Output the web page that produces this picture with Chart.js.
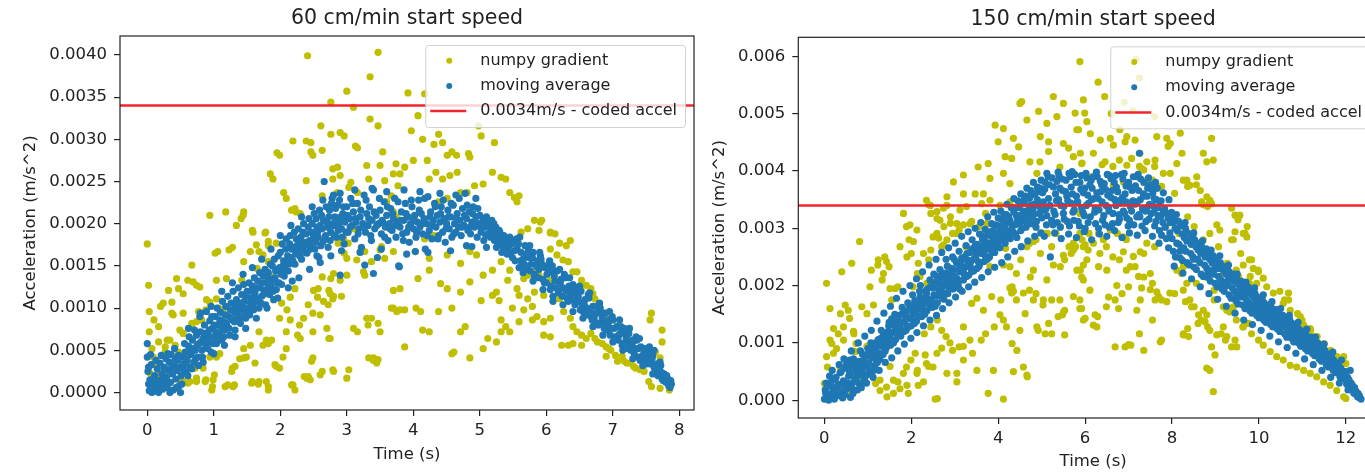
<!DOCTYPE html>
<html>
<head>
<meta charset="utf-8">
<script src="https://cdn.jsdelivr.net/npm/chart.js@4.4.0/dist/chart.umd.min.js"></script>
<style>
  html, body { margin: 0; padding: 0; background: #fff; overflow: hidden; width: 1365px; height: 472px; }
  .pane { position: absolute; top: 0; }
</style>
</head>
<body>
<div class="pane" style="left:0"><canvas id="left" width="700" height="472"></canvas></div>
<div class="pane" style="left:700px"><canvas id="right" width="700" height="472"></canvas></div>
<script>
// values are [time s, acceleration mm/s^2] (converted to m/s^2 when plotted)
const codedAccel = 0.0034;

const leftXTicks = [0, 1, 2, 3, 4, 5, 6, 7, 8];
const leftYTicks = [0, 0.0005, 0.001, 0.0015, 0.002, 0.0025, 0.003, 0.0035, 0.004];
const rightXTicks = [0, 2, 4, 6, 8, 10, 12];
const rightYTicks = [0, 0.001, 0.002, 0.003, 0.004, 0.005, 0.006];

const leftGradient = [
  [2.41,3.99],[3.47,4.03],[3.35,3.74],[3.0,3.57],[2.76,3.44],[3.1,3.38],[3.35,3.24],[3.47,3.16],[3.92,3.55],[4.07,3.28],
  [4.17,3.54],[4.98,3.16],[5.02,3.04],[5.22,2.96],[4.38,3.06],[3.97,3.1],[4.14,3.0],[4.31,2.94],
  [2.61,3.16],[2.76,3.06],[2.9,3.08],[2.96,3.04],[2.39,2.98],[2.46,2.96],[2.19,2.98],[3.16,2.9],[3.13,2.92],[2.63,2.87],
  [2.46,2.85],[2.49,2.81],[1.95,2.84],[1.99,2.81],[3.54,2.85],[3.74,2.71],[3.5,2.69],[3.87,2.67],[4.0,2.75],[4.21,2.75],
  [4.65,2.81],[4.83,2.83],[4.85,2.79],[4.44,2.96],[4.51,2.81],[4.58,2.85],
  [1.85,2.59],[1.89,2.53],[2.05,2.37],[2.09,2.3],[2.22,2.18],[2.24,2.14],[2.79,2.65],[2.86,2.67],[2.79,2.53],[2.9,2.57],
  [3.03,2.43],[3.06,2.49],[3.3,2.69],[3.33,2.53],[3.16,2.37],[3.57,2.51],[3.7,2.59],[3.8,2.59],[3.77,2.45],[3.67,2.33],
  [3.6,2.26],[4.24,2.53],[4.34,2.61],[4.44,2.53],[4.55,2.57],[4.66,2.61],[4.71,2.37],[4.81,2.37],[4.92,2.45],[5.05,2.47],
  [5.19,2.61],[5.32,2.55],[5.39,2.53],[5.45,2.37],[5.52,2.31],[5.56,2.26],[2.39,2.51],[2.63,2.33],[2.86,2.37],
  [0.94,2.1],[1.18,2.14],[1.45,2.14],[1.41,2.06],[1.58,1.92],[1.78,1.9],[1.82,1.74],[1.55,1.67],[1.68,1.67],[1.28,1.72],
  [1.06,1.67],[1.45,1.55],[1.65,1.47],[1.82,1.55],[1.34,1.98],[1.59,1.9],[1.64,1.75],[1.74,1.63],[1.94,1.77],[2.3,2.12],
  [2.17,2.16],[1.89,1.37],[2.02,1.06],[2.1,0.98],[2.15,0.86],[2.3,0.64],[2.35,0.88],[2.5,1.21],[2.57,1.23],[2.75,1.17],
  [2.8,1.14],[2.92,1.14],[2.65,1.08],[2.72,1.04],[2.7,0.76],[2.75,0.64],[2.6,0.92],
  [0,1.76],[0.02,1.27],[0.03,0.96],[0.1,0.86],[0.17,0.78],[0.24,1.06],[0.37,1.07],[0.47,1.23],[0.54,1.17],[0.67,1.51],
  [0.61,1.33],[0.74,1.27],[0.37,0.94],[0.54,0.94],[0.67,0.82],[0.77,0.96],[0.88,0.98],[0.94,1.07],[1.04,1.11],[0.03,0.72],
  [0.07,0.52],[0.1,0.33],[0.17,0.21],[0.27,0.48],[0.3,0.62],[0.47,0.48],[0.37,0.33],[0.51,0.13],[0.61,0.11],[0.74,0.17],
  [0.88,0.15],[0.98,0.07],[1.01,0.21],[1.21,0.09],[1.31,0.09],[1.28,0.29],[1.45,0.41],[1.45,0.52],[1.55,0.56],[1.68,0.72],
  [1.58,0.13],[1.68,0.13],[1.82,0.07],[1.92,0.33],[1.99,0.29],[2.19,0.09],[2.22,0.03],[2.36,0.19],[2.42,0.19],[2.49,0.41],
  [2.63,0.25],[2.79,0.27],[3.03,0.27],[3.0,0.17],[2.09,0.72],[2.09,0.52],[1.82,0.58],[1.99,0.88],[2.29,0.8],[2.26,0.68],
  [2.49,0.72],[2.73,0.64],[2.49,0.94],[2.42,1.04],[2.56,1.13],[2.79,1.11],[2.73,1.21],[2.15,1.13],[2.22,1.23],[2.63,1.37],
  [2.76,1.35],[3.1,0.76],[3.16,0.72],[3.37,0.88],[3.5,0.72],[3.33,0.41],[3.47,0.39],[3.4,0.41],
  [0.09,0.42],[0.04,0.23],[0.2,1.02],[0.32,1.21],[0.44,1.35],[0.69,1.31],[0.79,1.25],[0.39,0.92],[0.49,0.74],[0.54,0.7],
  [0.67,0.78],[0.74,0.84],[0.82,0.86],[0.89,1.1],[1.02,1.65],[1.23,1.69],[1.44,2.1],[1.42,1.33],[1.04,1.33],[1.19,1.35],
  [1.07,1.0],[1.14,0.98],[1.44,1.02],[1.77,1.89],[1.82,1.79],[1.79,0.62],[1.74,0.56],[1.62,0.35],[1.49,0.42],[1.39,0.4],
  [1.32,0.31],[1.27,0.25],[1.17,0.07],[1.29,0.07],[1.57,0.11],[1.67,0.1],[1.79,0.13],[1.82,0.03],[1.94,0.31],[1.87,0.62],
  [2.04,0.42],[2.17,0.09],[2.4,0.17],[2.45,0.15],[2.6,0.21],[2.8,0.25],[2.47,0.37],[0.24,0.23],[0.29,0.15],[0.34,0.03],
  [0.44,0.05],[0.54,0.13],[0.64,0.13],[0.74,0.13],[0.87,0.13],[0.99,0.15],[0.97,0.03],[0.59,0.35],[0.62,0.44],[0.94,0.42],
  [1.09,0.46],[0.42,0.56],[0.27,0.54],[0.34,0.62],[0.17,0.6],[0.72,0.29],[0.84,0.29],[1.04,0.42],
  [3.4,0.38],[3.45,0.35],[3.3,0.88],[3.32,0.8],[3.47,0.82],[3.67,1.0],[3.75,0.96],[3.57,1.59],[3.52,1.73],[3.15,1.57],
  [3.25,1.43],[3.27,1.39],[3.0,1.39],[2.9,1.33],[2.8,1.41],[3.2,1.67],[3.02,1.77],[2.95,1.83],[2.87,1.77],
  [3.7,1.0],[3.8,0.98],[3.87,0.98],[4.04,1.0],[4.11,0.96],[4.14,0.74],[4.24,0.72],[4.38,0.96],[4.58,1.0],[4.71,0.72],
  [4.78,0.78],[4.61,0.48],[3.87,0.54],[4.85,0.41],[3.7,1.21],[3.8,1.23],[4.07,1.35],[4.24,1.45],[4.41,1.29],[4.51,1.23],
  [4.71,1.19],[4.85,1.31],[5.02,1.09],[5.19,1.15],[5.25,1.19],[5.29,1.09],[5.05,1.39],[5.19,1.45],[5.32,1.55],[5.45,1.45],
  [5.42,1.33],[4.51,1.63],[4.85,1.67],[4.95,1.63],[4.71,1.53],[4.24,1.59],[3.7,1.67],[3.5,1.69],[3.37,1.55],[3.27,1.67],
  [2.96,1.65],[3.0,1.59],[3.1,1.94],[2.9,2.06],[2.76,1.9],[3.7,2.14],[3.74,2.08],[3.84,2.04],[4.01,2.06],[4.38,2.26],
  [4.51,2.3],[4.17,1.82],[4.31,1.86],[4.58,0.46],[4.03,1.67],
  [5.59,2.33],[5.62,1.9],[5.72,1.94],[5.82,2.04],[5.89,1.92],[5.93,2.04],[6.06,1.9],[6.13,1.88],[6.06,1.7],[6.16,1.63],
  [5.89,1.51],[5.82,1.43],[5.72,1.39],[5.66,1.35],[5.56,1.23],[5.59,1.15],[5.72,1.11],[5.82,1.19],[5.86,0.9],[5.79,0.86],
  [5.96,0.84],[6.06,0.88],[5.96,0.68],[6.06,0.66],[6.23,0.56],[6.33,0.56],[6.4,0.58],[6.53,0.56],[6.6,0.64],[6.73,0.64],
  [6.84,0.58],[6.94,0.52],[6.9,0.43],[7.07,0.37],[7.21,0.35],[7.34,0.29],[7.47,0.25],[7.54,0.13],[7.58,0.07],[7.71,0.05],
  [7.85,0.03],[7.58,0.94],[7.56,0.86],[7.71,0.41],[7.74,0.6],[7.74,0.74],[7.64,0.48],
  [6.3,1.74],[6.36,1.8],[6.33,1.55],[6.46,1.43],[6.53,1.33],[6.6,1.27],[6.67,1.23],[6.7,1.17],[6.73,1.11],[6.8,1.04],
  [6.87,0.94],[6.94,0.9],[7.0,0.86],[7.07,0.78],[7.21,0.72],[7.21,0.64],[7.34,0.62],[7.41,0.52],[7.47,0.43],
  [6.2,1.11],[6.26,0.96],[6.36,0.88],[6.4,0.78],[6.46,0.72],[6.53,0.68],[6.67,0.7],[6.77,0.6],[6.9,0.54],[6.97,0.5],
  [7.04,0.44],[7.14,0.43],[7.17,0.37],[7.27,0.35],[7.31,0.31],[7.41,0.27],
  [5.89,1.39],[5.96,1.15],[6.06,1.33],[5.79,1.02],[5.66,0.98],[5.49,1.0],[5.32,0.86],[5.39,0.78],[5.45,0.72],[5.59,0.84],
  [5.32,0.72],[5.25,0.6],[5.12,0.64],[5.05,0.52],[6.06,1.89],[5.91,2.02],[6.2,1.77],[6.25,1.57],[6.4,1.43],[6.52,1.22]
];

const leftAverage = [
  [0,0.58],[0,0.42],[0.01,0.25],[0.02,0.1],[0.03,0.02],[0.04,0.15],[0.05,0.05],[0.06,0.33],[0.07,0.0],[0.08,0.12],
  [0.1,0.06],[0.11,0.2],[0.12,0.02],[0.14,0.1],[0.15,0.28],[0.16,0.05],[0.18,0.14],[0.19,0.35],[0.2,0.08],[0.22,0.22],
  [0.23,0.04],[0.25,0.3],[0.26,0.12],[0.28,0.4],[0.29,0.18],[0.3,0.06],[0.32,0.26],[0.33,0.36],[0.35,0.12],[0.36,0.45],
  [0.38,0.22],[0.39,0.03],[0.4,0.32],[0.42,0.4],[0.43,0.16],[0.45,0.26],[0.46,0.38],[0.48,0.08],[0.49,0.3],[0.5,0.0],
  [0.51,0.2],[0.53,0.42],[0.55,0.34],[0.57,0.48],[0.58,0.24],
  [0.6,0.38],[0.62,0.55],[0.64,0.3],[0.66,0.45],[0.68,0.62],[0.7,0.36],[0.72,0.5],[0.74,0.68],[0.76,0.42],[0.78,0.58],
  [0.8,0.72],[0.82,0.5],[0.84,0.64],[0.86,0.8],[0.88,0.55],[0.9,0.7],[0.92,0.6],[0.94,0.85],[0.96,0.48],[0.98,0.76],
  [1.0,0.66],[1.02,0.9],[1.04,0.58],[1.06,0.8],[1.08,0.7],[1.1,0.95],[1.12,0.62],[1.14,0.84],[1.16,0.74],[1.18,1.02],
  [1.2,0.78],[1.22,0.9],[1.24,0.68],[1.26,1.06],[1.28,0.86],[1.3,0.96],[1.32,0.74],[1.34,1.1],[1.36,0.92],[1.38,1.02],
  [1.4,0.82],[1.42,1.16],[1.44,0.98],[1.46,1.08],[1.48,0.88],[1.5,1.2],[1.52,1.0],[1.54,0.92],[1.56,1.12],[1.58,1.26],
  [1.6,0.98],[1.62,1.18],[1.64,1.08],[1.66,1.32],[1.68,1.0],[1.7,1.24],[1.72,1.14],[1.74,1.38],[1.76,1.2],[1.78,1.04],
  [1.8,1.3],[1.82,1.42],[1.84,1.16],[1.86,1.26],[1.88,1.5],[1.9,1.1],[1.92,1.36],[1.94,1.22],[1.96,1.46],[1.98,1.3],
  [2.0,1.66],[2.02,1.28],[2.04,1.5],[2.06,1.38],[2.08,1.7],[2.1,1.54],[2.12,1.44],[2.14,1.76],[2.16,1.6],[2.18,1.32],
  [2.2,1.72],[2.22,1.52],[2.24,1.82],[2.26,1.66],[2.28,1.76],[2.3,1.8],[2.32,1.58],[2.34,1.9],[2.36,1.74],[2.38,1.78],
  [2.4,1.65],[2.42,1.96],[2.44,1.8],[2.46,1.72],[2.48,2.0],[2.5,1.86],[2.52,1.7],[2.54,2.06],[2.56,1.9],[2.58,1.6],
  [2.6,1.98],[2.62,2.1],[2.64,1.78],[2.66,2.5],[2.68,1.86],[2.7,2.02],[2.72,1.72],[2.74,2.16],[2.76,1.9],[2.78,2.3],
  [2.8,1.98],[2.82,2.08],[2.84,1.84],[2.86,2.22],[2.88,2.0],[2.9,2.36],[2.92,1.94],[2.94,2.12],[2.96,1.76],[2.98,2.04],
  [3.0,2.2],[3.02,1.9],[3.04,2.06],[3.06,2.3],[3.08,1.98],[3.1,2.14],[3.12,1.82],[3.14,2.02],[3.16,2.24],[3.18,1.94],
  [3.2,2.08],[3.22,1.72],[3.24,2.0],[3.26,2.34],[3.28,1.9],[3.3,2.12],[3.32,1.98],[3.34,2.2],[3.36,1.86],[3.38,2.04],
  [3.4,2.4],[3.42,1.94],[3.44,2.1],[3.46,1.6],[3.48,2.0],[3.5,2.16],[3.52,1.88],[3.54,2.02],[3.56,2.26],[3.58,1.96],
  [3.6,2.1],[3.62,1.8],[3.64,2.0],[3.66,2.18],[3.68,1.92],[3.7,2.06],[3.72,2.3],[3.74,1.84],[3.76,2.02],[3.78,1.5],
  [3.8,1.96],[3.82,2.14],[3.84,1.88],[3.86,2.04],[3.88,2.24],[3.9,1.9],[3.92,2.08],[3.94,1.78],[3.96,2.0],[3.98,2.2],
  [4.0,1.94],[4.02,2.1],[4.04,1.84],[4.06,2.02],[4.08,2.28],[4.1,1.96],[4.12,2.12],[4.14,1.88],[4.16,2.06],[4.18,1.7],
  [4.2,2.0],[4.22,2.32],[4.24,1.92],[4.26,2.14],[4.28,1.82],[4.3,2.04],[4.32,2.24],[4.34,1.96],[4.36,2.1],[4.38,1.86],
  [4.4,2.02],[4.42,2.2],[4.44,1.9],[4.46,2.06],[4.48,1.78],[4.5,2.0],[4.52,2.16],[4.54,1.94],[4.56,2.08],[4.58,1.84],
  [4.6,2.22],[4.62,2.0],[4.64,1.9],[4.66,2.12],[4.68,1.96],[4.7,2.04],[4.72,1.86],[4.74,2.18],[4.76,1.98],[4.78,2.36],
  [4.8,2.06],[4.82,1.92],[4.84,2.14],[4.86,1.88],[4.88,2.02],[4.9,2.2],[4.92,1.96],[4.94,2.08],[4.96,1.84],[4.98,2.0],
  [5.0,2.1],[5.02,1.9],[5.04,2.02],[5.06,1.8],[5.08,1.96],[5.1,2.08],[5.12,1.88],[5.14,1.98],[5.16,1.84],[5.18,2.04],
  [5.2,1.9],[5.22,1.8],[5.24,1.96],[5.26,1.86],[5.28,1.76],[5.3,1.9],[5.32,1.82],[5.34,1.74],[5.36,1.86],[5.38,1.78],
  [5.4,1.7],[5.42,1.8],[5.44,1.74],[5.46,1.66],[5.48,1.76],
  [5.5,1.78],[5.53,1.56],[5.56,1.7],[5.59,1.48],[5.62,1.66],[5.65,1.58],[5.68,1.74],[5.71,1.46],[5.74,1.6],[5.77,1.52],
  [5.8,1.66],[5.83,1.4],[5.86,1.56],[5.89,1.46],[5.92,1.58],[5.95,1.34],[5.98,1.48],[6.01,1.4],[6.04,1.52],[6.07,1.26],
  [6.1,1.42],[6.13,1.32],[6.16,1.44],[6.19,1.2],[6.22,1.34],[6.25,1.24],[6.28,1.36],[6.31,1.12],[6.34,1.26],[6.37,1.16],
  [6.4,1.28],[6.43,1.04],[6.46,1.18],[6.49,1.08],[6.52,1.2],[6.55,0.96],[6.58,1.1],[6.61,1.0],[6.64,1.12],[6.67,0.9],
  [6.7,1.02],[6.73,0.92],[6.76,1.02],[6.79,0.82],[6.82,0.94],[6.85,0.84],[6.88,0.94],[6.91,0.74],[6.94,0.86],[6.97,0.76],
  [7.0,0.86],[7.03,0.66],[7.06,0.78],[7.09,0.68],[7.12,0.78],[7.15,0.58],[7.18,0.7],[7.21,0.6],[7.24,0.7],[7.27,0.5],
  [7.3,0.62],[7.33,0.52],[7.36,0.62],[7.39,0.42],[7.42,0.54],[7.45,0.44],[7.48,0.52],[7.51,0.34],[7.54,0.44],[7.57,0.36],
  [7.6,0.44],[7.62,0.5],[7.64,0.26],[7.67,0.34],[7.7,0.26],[7.72,0.32],[7.74,0.16],[7.77,0.22],[7.8,0.12],[7.83,0.16],
  [7.86,0.06],[7.88,0.1],
  [5.55,1.82],[5.64,1.5],[5.73,1.68],[5.82,1.38],[5.91,1.62],[6.0,1.3],[6.09,1.5],[6.18,1.18],[6.27,1.4],[6.36,1.1],
  [6.45,1.24],[6.54,1.02],[6.63,1.16],[6.72,0.86],[6.81,1.0],[6.9,0.8],[6.99,0.9],[7.08,0.62],[7.17,0.76],[7.26,0.56],
  [7.35,0.66],[7.44,0.4],[7.53,0.48],[7.62,0.3],[7.71,0.36],[7.79,0.2],[6.1,1.08],
  [3.79,1.49],[3.4,1.41],[3.27,1.51],[2.9,1.39],[2.55,1.62],[4.03,1.67],[4.88,1.73],
  [0.02,0.3],[0.05,0.45],[0.09,0.16],[0.13,0.38],[0.17,0.0],[0.21,0.44],[0.24,0.16],[0.27,0.28],[0.31,0.46],[0.34,0.0],
  [0.37,0.3],[0.41,0.52],[0.44,0.06],[0.47,0.44],[0.52,0.1],[0.54,0.28],[0.56,0.58],[0.59,0.4],[0.61,0.2],[0.63,0.66],
  [0.65,0.48],[0.67,0.28],[0.69,0.52],[0.71,0.74],[0.73,0.4],[0.75,0.56],[0.77,0.32],[0.79,0.9],[0.81,0.6],[0.83,0.42],
  [0.85,0.7],[0.87,0.62],[0.89,0.96],[0.91,0.52],[0.93,0.74],[0.95,0.66],[0.97,0.9],[0.99,0.58],[1.01,0.8],[1.03,0.72],
  [1.05,1.0],[1.07,0.62],[1.09,0.86],[1.11,0.78],[1.13,1.08],[1.15,0.66],[1.17,0.92],[1.19,0.82],[1.21,1.14],[1.23,0.76],
  [1.25,0.98],[1.27,0.88],[1.29,1.2],[1.31,0.84],[1.33,1.02],[1.35,0.96],[1.37,1.24],[1.39,0.88],[1.41,1.06],[1.43,0.9],
  [1.45,1.28],[1.47,1.0],[1.49,1.14],[1.51,0.94],[1.53,1.3],[1.55,1.06],[1.57,1.2],[1.59,1.04],[1.61,1.36],[1.63,1.12],
  [1.65,1.24],[1.67,1.1],[1.69,1.42],[1.71,1.06],[1.73,1.3],[1.75,1.16],[1.77,1.46],[1.79,1.22],[1.81,1.36],[1.83,1.24],
  [1.85,1.52],[1.87,1.34],[1.89,1.2],[1.91,1.58],[1.93,1.44],[1.95,1.3],[1.97,1.62],[1.99,1.48],[2.01,1.4],[2.03,1.76],
  [2.05,1.56],[2.07,1.46],[2.09,1.82],[2.11,1.62],[2.13,1.52],[2.15,1.86],[2.17,1.7],[2.19,1.56],[2.21,1.9],[2.23,1.64],
  [2.25,1.74],[2.27,1.94],[2.29,1.62],[2.31,1.84],[2.33,1.7],[2.35,2.0],[2.37,1.66],[2.39,1.88],[2.41,1.76],[2.43,2.06],
  [2.45,1.7],[2.47,1.9],[2.49,1.8],[2.51,2.12],[2.53,1.78],[2.55,1.96],[2.57,1.84],[2.59,2.16],[2.61,1.74],[2.63,1.94],
  [2.65,2.04],[2.67,1.82],[2.69,2.2],[2.71,1.96],[2.73,2.08],[2.75,1.8],[2.77,2.24],[2.79,2.0],[2.81,1.86],[2.83,2.18],
  [2.85,2.04],[2.87,1.92],[2.89,2.28],[2.91,2.08],[2.93,1.84],[2.95,2.2],[2.97,2.02],[2.99,1.9],
  [3.01,2.1],[3.05,1.96],[3.09,2.24],[3.13,2.06],[3.17,1.88],[3.21,2.16],[3.25,1.96],[3.29,2.28],[3.33,2.06],[3.37,1.8],
  [3.41,2.14],[3.45,1.98],[3.49,2.3],[3.53,2.04],[3.57,1.84],[3.61,2.2],[3.65,1.94],[3.69,2.12],[3.73,1.98],[3.77,2.26],
  [3.81,2.04],[3.85,1.8],[3.89,2.12],[3.93,1.96],[3.97,2.28],[4.01,2.04],[4.05,1.9],[4.09,2.16],[4.13,2.0],[4.17,2.3],
  [4.21,1.86],[4.25,2.08],[4.29,1.98],[4.33,2.2],[4.37,1.82],[4.41,2.12],[4.45,2.28],[4.49,1.94],[4.53,2.08],[4.57,2.24],
  [4.61,1.88],[4.65,2.06],[4.69,2.3],[4.73,1.96],[4.77,2.1],[4.81,2.22],[4.85,1.96],[4.89,2.12],[4.93,2.0],[4.97,2.18],
  [5.01,1.96],[5.05,2.06],[5.09,1.86],[5.13,2.02],[5.17,1.92],[5.21,2.0],[5.25,1.72],[5.29,1.92],[5.33,1.66],[5.37,1.8],
  [5.41,1.64],[5.45,1.84],[5.49,1.6],
  [5.52,1.68],[5.58,1.76],[5.61,1.56],[5.67,1.52],[5.7,1.64],[5.76,1.44],[5.79,1.6],[5.85,1.5],[5.88,1.36],[5.94,1.52],
  [5.97,1.3],[6.03,1.44],[6.06,1.22],[6.12,1.38],[6.15,1.24],[6.21,1.3],[6.24,1.14],[6.3,1.2],[6.33,1.08],[6.39,1.22],
  [6.42,1.1],[6.48,1.14],[6.51,0.98],[6.57,1.04],[6.6,0.92],[6.66,0.98],[6.69,0.86],[6.75,0.94],[6.78,0.8],[6.84,0.88],
  [6.87,0.76],[6.93,0.82],[6.96,0.68],[7.02,0.76],[7.05,0.64],[7.11,0.7],[7.14,0.56],[7.2,0.64],[7.23,0.52],[7.29,0.58],
  [7.32,0.46],[7.38,0.52],[7.41,0.38],[7.47,0.46],[7.5,0.4],[7.56,0.34],[7.59,0.4],[7.65,0.3],[7.68,0.2],[7.73,0.24],
  [7.76,0.14],[7.81,0.2],[7.84,0.08],[7.87,0.14],
  [0.62,0.76],[0.8,0.94],[0.96,1.02],[1.12,1.2],[1.28,1.3],[1.44,1.4],[1.58,1.48],[1.72,1.58],[1.86,1.7],[2.0,1.86],
  [2.16,1.98],[2.32,2.08],[2.48,2.2],[2.64,2.28],[2.8,2.34],[3.12,2.4],[3.38,2.42],[3.6,2.38],[3.86,2.4],[4.1,2.38],
  [4.4,2.36],[4.64,2.34],[4.94,2.3],
  [0.84,0.36],[1.0,0.46],[1.16,0.56],[1.32,0.66],[1.48,0.76],[1.64,0.88],[1.8,1.0],[1.96,1.12],[2.12,1.24],[2.28,1.36],
  [2.44,1.46],[2.6,1.54],[2.76,1.62],[2.92,1.68],[3.2,1.66],[3.52,1.7],[3.9,1.64],[4.22,1.66],[4.56,1.68],[4.8,1.74],
  [5.1,1.72],
  [5.6,1.84],[5.75,1.74],[5.9,1.66],[6.05,1.56],[6.2,1.46],[6.35,1.36],[6.5,1.26],[6.65,1.18],[6.8,1.06],[6.95,0.96],
  [7.1,0.86],[7.25,0.76],[7.4,0.64],[7.55,0.54],
  [5.65,1.42],[5.8,1.32],[5.95,1.22],[6.1,1.14],[6.25,1.04],[6.4,0.96],[6.55,0.88],[6.7,0.78],[6.85,0.68],[7.0,0.6],
  [7.15,0.5],[7.3,0.4],[7.45,0.32],[7.6,0.22]
];

const rightGradient = [
  [0.05,2.04],[0.81,2.77],[0.4,2.24],[0.63,2.39],[0.13,1.6],[0.21,1.25],[0.44,1.28],[0.55,1.57],[0.86,1.63],[1.05,1.98],
  [1.24,2.45],[1.43,2.42],[1.36,2.21],[1.51,1.95],[1.63,1.95],[1.55,1.75],[1.74,2.68],[1.9,2.5],[2.05,2.77],[2.16,2.39],
  [2.2,2.16],[2.28,2.56],[2.36,2.04],[2.59,2.91],[2.82,2.8],[3.05,2.91],[3.2,3.06],[3.39,3.12],[1.82,3.26],[1.97,3.06],
  [2.13,2.97],[2.59,3.17],[2.4,3.41],[2.74,3.35],[3.12,3.32],[3.27,3.38],
  [0.98,0.94],[1.09,0.76],[1.51,0.59],[1.59,0.35],[1.74,0.2],[1.93,0.12],[2.28,0.32],[2.55,0.02],[2.82,0.47],[3.05,0.47],
  [3.05,0.32],[3.77,0.12],[4.12,0.02],[3.89,0.52],[4.35,0.5],[4.58,0.58],[4.66,0.44],[4.43,0.87],[4.5,1.22],[4.89,1.28],
  [5.16,1.34],[5.5,1.54],[5.96,1.4],[5.88,1.6],[5.42,1.75],[5.04,1.75],[4.81,1.75],[4.58,1.87],[4.81,2.27],[5.12,2.1],
  [5.27,2.36],[5.5,2.53],[5.73,2.74],[5.81,2.27],[5.96,2.36],[5.88,2.91],[6.0,2.71],[3.85,1.81],[4.04,1.49],[4.19,1.28],
  [4.27,1.96],[4.35,1.9],[3.39,1.69],[3.51,1.78],[3.66,1.57],[3.2,1.28],[3.35,1.05],[3.2,0.94],[2.89,1.0],[2.7,0.91],
  [2.59,0.82],[2.32,0.79],[2.4,0.59],[2.13,0.47],[2.16,0.26],[1.82,0.47],[1.9,0.26],[1.59,0.12],[1.43,0.23],[1.28,0.35],
  [1.13,0.55],[0.94,0.76],[0.71,0.85],[0.55,0.64],[0.36,0.58],[0.21,0.82],[0.05,0.76],[0.28,0.9],[0.44,1.05],[0.13,1.05],
  [0.67,1.2],[2.63,2.83],[2.74,2.71],[3.81,2.33],[4.12,2.36],[4.31,1.87],[4.74,2.15],[4.19,2.83],[4.66,2.68],[4.81,2.77],
  [5.04,2.91],[5.73,2.62],[5.92,2.15],[3.7,2.85],[3.81,2.68],
  [0.0,0.29],[0.07,0.58],[0.17,0.99],[0.32,1.16],[0.68,1.16],[0.73,0.99],[0.93,0.7],[0.78,0.35],[0.58,0.15],[1.18,0.29],
  [1.28,0.17],[1.44,0.06],[1.69,0.32],[1.89,0.58],[1.99,0.7],[2.09,0.82],[2.14,0.52],[2.35,0.64],[2.5,0.58],[2.6,0.03],
  [2.3,1.16],[2.45,1.28],[2.6,1.4],[2.7,1.22],[2.8,1.11],[2.95,0.87],[3.1,0.93],[3.2,0.7],[3.41,0.82],[3.51,0.52],
  [4.67,0.41],[3.71,1.16],[3.61,1.05],[3.91,1.28],[4.12,1.4],[4.32,0.99],[4.06,1.75],[4.42,1.75],[5.23,1.16],[5.53,1.14],
  [0.37,1.51],[0.48,1.66],[0.58,1.43],[0.98,1.51],[1.13,1.66],[1.08,2.27],[1.23,2.36],[1.39,2.5],[1.49,2.33],[1.33,2.1],
  [1.69,1.98],[1.89,3.03],[1.95,2.8],[2.0,2.56],[2.14,2.21],[2.04,1.98],[2.35,3.49],[2.45,3.26],[2.5,2.85],[2.45,2.62],
  [2.4,2.45],[2.7,2.68],[2.75,3.03],[2.9,3.09],[2.95,2.91],[3.1,2.97],[3.26,2.68],[3.56,3.03],[3.71,3.26],[3.91,2.8],
  [4.17,2.65],[4.27,2.33],[4.32,1.98],[4.42,2.21],[4.52,2.45],[4.72,2.74],[4.87,2.8],[4.97,2.56],[5.13,2.91],[5.23,2.68],
  [5.43,2.33],[5.53,2.45],[5.68,2.56],[5.78,2.68],[5.93,2.8],[4.92,1.22],[5.08,1.16],[5.48,1.49],[5.03,1.66],[4.87,1.86],
  [4.72,1.92],[4.62,1.51],[5.23,1.75],[5.38,1.46],[5.53,1.57],[5.73,1.81],[5.88,1.75],
  [5.88,5.91],[5.27,5.3],[4.54,5.21],[4.5,5.18],[4.93,5.04],[5.5,5.18],[5.35,4.95],[4.66,4.89],[3.93,4.8],[4.12,4.74],
  [5.12,4.83],[5.77,5.01],[5.96,5.24],[5.81,4.72],[4.0,4.51],[4.35,4.57],[4.97,4.6],[5.16,4.51],[5.5,4.48],[5.62,4.4],
  [4.47,4.42],[4.16,4.25],[4.31,4.22],[4.73,4.16],[4.96,4.16],[5.16,4.34],[5.42,4.07],[5.65,3.96],[3.77,4.13],[3.54,4.07],
  [3.2,3.93],[2.97,3.81],[3.81,3.87],[4.12,3.96],[4.27,3.78],[4.89,3.96],[3.47,3.6],[3.66,3.6],[3.81,3.49],[3.2,3.6],
  [2.82,3.55],[2.59,3.29],[2.9,3.2],[3.05,3.08],[3.35,3.08],[3.74,3.08],[2.44,3.4],[2.82,3.4],[3.62,3.43],[4.04,3.4],
  [4.27,3.46],[2.66,3.14],
  [5.99,5.01],[6.04,4.86],[5.85,4.72],[6.12,4.65],[5.89,4.31],[5.92,4.13],[6.19,4.31],[6.35,4.54],[6.46,4.16],[6.58,4.57],
  [6.65,4.45],[6.8,4.72],[6.92,4.51],[6.96,4.6],[7.15,4.54],[7.07,4.22],[6.96,4.1],[7.3,4.04],[7.42,4.16],[7.61,4.19],
  [7.65,4.6],[7.88,4.57],[7.96,4.48],[8.11,4.13],[8.19,4.66],[8.23,4.31],[8.57,3.9],[8.72,4.31],[8.8,4.16],[8.91,4.57],
  [8.34,3.84],[8.41,3.75],[8.65,3.66],[8.8,3.55],[8.68,3.46],[8.91,3.43],[9.37,3.35],[9.45,3.23],[9.56,3.23],[6.65,3.75],
  [6.88,3.81],[7.8,3.96],[7.42,3.84],[7.61,3.69],[7.26,4.31],[6.15,3.9],
  [6.3,5.55],[6.9,5.2],[7.1,5.05],[7.6,4.95],[6.6,5.0],[7.17,5.95],[7.25,5.62],[6.45,5.3],
  [9.03,3.06],[9.1,2.97],[9.45,2.94],[9.64,2.91],[9.72,2.85],[9.83,2.45],[9.87,2.3],[9.99,2.24],[9.64,2.36],[9.53,2.16],
  [9.8,2.16],[10.1,2.13],[9.95,2.04],[10.18,1.98],[10.33,1.87],[10.48,1.9],[10.68,1.87],[10.56,1.69],[10.72,1.57],[10.68,1.75],
  [10.95,1.46],[11.03,1.31],[11.18,1.25],[11.26,1.11],[11.37,0.99],[11.49,0.82],[11.64,0.7],[11.79,0.52],[11.95,0.76],[11.95,0.06],
  [11.91,0.47],
  [8.72,1.57],[8.8,1.49],[8.76,1.37],[8.87,1.22],[9.03,1.14],[8.91,0.93],[8.99,0.79],[8.8,0.56],[8.95,0.15],[9.18,1.28],
  [9.26,1.57],[9.41,1.63],[9.26,1.11],[9.45,1.05],[9.49,0.93],[9.64,1.28],[9.76,1.34],[9.83,1.16],[9.99,1.05],[10.1,0.96],
  [10.26,0.85],[10.41,0.76],[10.56,0.7],[10.72,0.61],[10.87,0.58],[11.03,0.52],[11.18,0.47],[11.33,0.41],[11.49,0.32],[11.64,0.26],
  [11.79,0.17],
  [5.96,2.68],[6.07,2.62],[5.89,2.27],[5.96,2.1],[5.92,1.6],[6.0,1.43],[6.23,1.49],[6.27,1.28],[6.11,1.92],[6.31,2.33],
  [6.5,2.27],[6.54,1.8],[6.73,2.0],[6.77,1.6],[6.88,2.59],[7.04,2.33],[7.11,2.51],[7.23,2.16],[7.3,1.96],[7.27,1.75],
  [7.19,1.57],[7.0,0.97],[6.92,0.93],[7.5,1.93],[7.61,1.75],[7.73,1.02],[7.69,1.81],[7.88,1.72],[7.95,1.87],[8.11,2.27],
  [8.22,2.21],[8.34,2.04],[8.41,1.75],[8.45,1.63],[8.6,1.34],[8.38,1.11],[8.26,1.14],[7.27,2.59],[7.42,2.74],[6.88,2.85],
  [6.58,2.97],[6.42,2.8],[6.31,2.91],[5.88,3.26],[8.84,3.41],[8.72,3.41],[9.41,2.8],
  [8.95,4.19],[7.91,4.43],[6.79,4.19],[7.25,4.08],[7.35,4.02],[7.6,4.08],[7.96,3.96],[5.73,4.25],[5.93,4.14],[6.39,4.11],
  [6.64,4.08],[7.55,3.84],[7.76,3.73],[8.06,3.61],[8.26,3.84],[8.36,3.73],[8.56,3.76],[8.87,3.49],[8.82,3.38],[9.52,3.15],
  [9.73,3.03],[9.68,2.91],[9.37,2.8],[7.86,3.03],[8.16,2.91],[8.36,3.2],[8.51,3.03],[8.72,2.8],[8.87,2.91],[9.07,2.68],
  [9.27,2.39],[9.18,2.21],[9.78,2.04],[9.88,1.92],[10.08,1.81],[9.48,2.27],[8.97,1.92],[8.56,2.04],[8.77,2.15],[8.97,1.75],
  [9.18,1.63],[9.33,1.54],[9.48,1.4],[9.63,1.28],[8.61,1.49],[8.67,1.4],[8.82,1.28],[9.13,1.16],[9.23,1.05],[9.37,0.93],
  [7.5,2.21],[7.65,1.89],[8.06,1.86],[8.26,1.92],[8.31,1.72],[8.51,1.63],[7.35,2.15],[7.55,2.04],[7.15,2.33],[6.95,2.27],
  [6.79,2.45],[6.64,2.5],[6.49,2.68],[6.34,2.56],[6.19,2.74],[6.09,2.91],[6.04,2.45],[6.74,2.91],[6.95,2.8],[7.35,2.56],
  [7.6,2.68],[8.26,2.33],[5.33,2.91],[5.43,3.03],[5.63,2.68],[6.49,1.63],[6.29,1.46],[6.19,1.31],[6.69,1.75],[6.85,1.86],
  [7.0,1.98],[7.05,0.96],[7.76,1.05],[8.26,1.16],[8.36,1.25],[8.87,0.52],[12.0,0.64],[12.0,0.03],[6.69,0.93],[7.25,1.16],
  [7.55,1.4],[7.76,1.75],[7.35,0.87],
  [9.58,2.56],[9.78,2.45],[9.98,2.27],[10.59,1.75],[10.89,1.51],[10.99,1.4],[11.19,1.22],[11.34,1.11],[11.5,0.99],[11.65,0.87],
  [11.8,0.76],[11.9,0.64]
];

const rightAverage = [
  [0.0,0.02],[0.04,0.3],[0.08,0.1],[0.12,0.42],[0.16,0.05],[0.2,0.22],[0.24,0.36],[0.28,0.08],[0.32,0.28],[0.36,0.48],
  [0.4,0.15],[0.44,0.34],[0.48,0.56],[0.52,0.2],[0.56,0.42],[0.6,0.05],[0.64,0.6],[0.68,0.32],[0.72,0.5],[0.76,0.18],
  [0.8,0.68],[0.84,0.44],[0.88,0.8],[0.92,0.36],[0.96,0.62],[1.0,0.9],[1.04,0.52],[1.08,0.74],[1.12,0.98],[1.16,0.6],
  [1.2,0.84],[1.24,1.06],[1.28,0.72],[1.32,0.94],[1.36,1.16],[1.4,0.86],[1.44,1.04],[1.48,1.3],[1.52,0.96],[1.56,1.18],
  [1.6,1.4],[1.64,1.06],[1.68,1.26],[1.72,1.48],[1.76,1.12],[1.8,1.36],[1.84,1.56],[1.88,1.22],[1.92,1.44],[1.96,1.66],
  [2.0,1.3],[2.04,1.52],[2.08,1.74],[2.12,1.38],[2.16,1.6],[2.2,1.8],[2.24,1.46],[2.28,1.68],[2.32,1.9],[2.36,1.56],
  [2.4,1.76],[2.44,1.98],[2.48,1.62],[2.52,1.84],[2.56,2.06],[2.6,1.7],[2.64,1.92],[2.68,2.14],[2.72,1.78],[2.76,2.0],
  [2.8,2.22],[2.84,1.86],[2.88,2.08],[2.92,2.3],[2.96,1.94],[3.0,2.16],[3.04,2.4],[3.08,2.02],[3.12,2.24],[3.16,2.48],
  [3.2,2.1],[3.24,2.32],[3.28,2.56],[3.32,2.18],[3.36,2.4],[3.4,2.64],[3.44,2.26],[3.48,2.48],[3.52,2.72],[3.56,2.34],
  [3.6,2.56],[3.64,2.8],[3.68,2.42],[3.72,2.64],[3.76,2.88],[3.8,2.5],[3.84,2.72],[3.88,2.96],[3.92,2.58],[3.96,2.8],
  [4.0,3.04],[4.04,2.66],[4.08,2.88],[4.12,3.12],[4.16,2.74],[4.2,2.96],[4.24,3.2],[4.28,2.82],[4.32,3.04],[4.36,3.28],
  [4.4,2.9],[4.44,3.12],[4.48,3.36],[4.52,2.96],[4.56,3.2],[4.6,3.44],[4.64,3.02],[4.68,3.26],[4.72,3.52],[4.76,3.08],
  [4.8,3.32],[4.84,3.6],[4.88,3.12],[4.92,3.4],[4.96,3.7],[5.0,3.18],[5.04,3.46],[5.08,3.8],[5.12,3.22],[5.16,3.52],
  [5.2,2.5],[5.24,3.88],[5.28,3.3],[5.32,3.6],[5.36,3.1],[5.4,3.92],[5.44,3.4],[5.48,3.66],[5.52,3.16],[5.56,3.84],
  [5.6,3.48],[5.64,3.04],[5.68,3.72],[5.72,3.28],[5.76,3.94],[5.8,3.56],[5.84,3.12],[5.88,3.8],[5.92,3.36],[5.96,3.62],
  [6.0,3.0],[6.04,3.88],[6.08,3.44],[6.12,3.2],[6.16,3.7],[6.2,3.52],[6.24,3.08],[6.28,3.9],[6.32,3.32],[6.36,3.64],
  [6.4,3.14],[6.44,3.78],[6.48,3.4],[6.52,3.58],[6.56,3.02],[6.6,3.86],[6.64,3.26],[6.68,3.5],[6.72,3.72],[6.76,3.1],
  [6.8,3.44],[6.84,3.94],[6.88,3.3],[6.92,3.6],[6.96,3.18],[7.0,3.8],[7.04,3.38],[7.08,3.66],[7.12,3.06],[7.16,3.74],
  [7.2,3.46],[7.24,3.24],[7.28,3.86],[7.32,3.34],[7.36,3.56],[7.4,3.12],[7.44,3.7],[7.48,3.42],[7.52,3.26],[7.56,3.62],
  [7.6,3.04],[7.64,3.5],[7.68,3.22],[7.72,3.46],[7.76,2.88],[7.8,3.3],[7.84,3.02],[7.88,3.26],[7.92,2.66],[7.96,3.1],
  [8.0,2.82],[8.04,3.2],[8.08,2.5],[8.12,2.96],[8.16,2.72],[8.2,3.04],[8.24,2.44],[8.28,2.84],[8.32,2.6],[8.36,2.92],
  [8.4,2.36],[8.44,2.72],[8.48,2.5],[8.52,2.8],[8.56,2.28],[8.6,2.62],[8.64,2.4],[8.68,2.68],[8.72,2.16],[8.76,2.5],
  [8.8,2.3],[8.84,2.56],[8.88,2.08],[8.92,2.4],[8.96,2.2],[9.0,2.44],[9.04,1.98],[9.08,2.3],[9.12,2.1],[9.16,2.34],
  [9.2,1.9],[9.24,2.2],[9.28,2.0],[9.32,2.24],[9.36,1.78],[9.4,2.08],[9.44,1.9],[9.48,2.12],[9.52,1.68],[9.56,1.98],
  [9.6,1.8],[9.64,2.02],[9.68,1.6],[9.72,1.88],[9.76,1.7],[9.8,1.9],[9.84,1.52],[9.88,1.78],[9.92,1.6],[9.96,1.8],
  [10.0,1.44],[10.04,1.68],[10.08,1.52],[10.12,1.7],[10.16,1.36],[10.2,1.58],[10.24,1.44],[10.28,1.62],[10.32,1.28],[10.36,1.5],
  [10.4,1.36],[10.44,1.52],[10.48,1.2],[10.52,1.4],[10.56,1.28],[10.6,1.42],[10.64,1.1],[10.68,1.32],[10.72,1.18],[10.76,1.34],
  [10.8,1.02],[10.84,1.22],[10.88,1.1],[10.92,1.24],[10.96,0.94],[11.0,1.12],[11.04,1.0],[11.08,1.14],[11.12,0.86],[11.16,1.02],
  [11.2,0.92],[11.24,1.04],[11.28,0.78],[11.32,0.94],[11.36,0.82],[11.4,0.94],[11.44,0.68],[11.48,0.84],[11.52,0.72],[11.56,0.82],
  [11.6,0.58],[11.64,0.72],[11.68,0.62],[11.72,0.7],[11.76,0.48],[11.8,0.6],[11.84,0.5],[11.88,0.56],[11.92,0.38],[11.96,0.46],
  [12.0,0.36],[12.04,0.4],[12.08,0.24],[12.12,0.3],[12.16,0.18],[12.2,0.22],[12.24,0.1],[12.28,0.12],[12.32,0.04],
  [5.02,3.62],[5.1,3.34],[5.18,3.76],[5.26,3.06],[5.34,3.48],[5.42,3.7],[5.5,3.26],[5.58,3.56],[5.66,3.9],[5.74,3.14],
  [5.82,3.46],[5.9,3.68],[5.98,3.22],[6.06,3.58],[6.14,3.84],[6.22,3.28],[6.3,3.52],[6.38,3.76],[6.46,3.06],[6.54,3.36],
  [6.62,3.66],[6.7,3.92],[6.78,3.24],[6.86,3.54],[6.94,3.74],[7.02,3.14],[7.1,3.48],[7.18,3.9],[7.26,3.2],[7.34,3.6],
  [7.42,3.36],[7.5,3.76],[7.58,3.28],[7.66,3.7],[7.74,3.2],
  [0.02,0.18],[0.1,0.0],[0.18,0.52],[0.26,0.14],[0.34,0.62],[0.42,0.04],[0.5,0.26],[0.58,0.7],[0.66,0.12],[0.74,0.4],
  [0.82,0.28],[0.9,0.58],[0.98,0.44],[1.06,0.88],[1.14,0.78],[1.22,0.66],[1.3,1.08],[1.38,0.98],[1.46,1.14],[1.54,1.02],
  [1.62,1.3],[1.7,1.16],[1.78,1.5],[1.86,1.4],[1.94,1.28],[2.02,1.64],[2.1,1.5],[2.18,1.72],[2.26,1.58],[2.34,1.78],
  [2.42,1.66],[2.5,1.96],[2.58,1.82],[2.66,2.04],[2.74,1.88],[2.82,2.12],[2.9,1.98],[2.98,2.28],[3.06,2.12],[3.14,2.36],
  [3.22,2.2],[3.3,2.44],[3.38,2.3],[3.46,2.58],[3.54,2.42],[3.62,2.68],[3.7,2.52],[3.78,2.74],[3.86,2.6],[3.94,2.9],
  [4.02,2.78],[4.1,3.0],[4.18,2.86],[4.26,3.1],[4.34,2.94],[4.42,3.22],[4.5,3.08],[4.58,3.3],[4.66,3.16],[4.74,3.4],
  [4.82,3.24],[4.9,3.5],[4.98,3.3],
  [8.02,3.1],[8.18,2.6],[8.34,2.78],[8.5,2.46],[8.66,2.56],[8.82,2.2],[8.98,2.3],[9.14,2.02],[9.3,2.1],[9.46,1.8],
  [9.62,1.9],[9.78,1.62],[9.94,1.7],[10.1,1.46],[10.26,1.52],[10.42,1.3],[10.58,1.36],[10.74,1.14],[10.9,1.16],[11.06,0.94],
  [11.22,0.98],[11.38,0.74],[11.54,0.76],[11.7,0.56],[11.86,0.44],[12.02,0.28],[12.18,0.14],
  [7.25,4.31],
  [0.03,0.12],[0.07,0.24],[0.11,0.05],[0.15,0.31],[0.19,0.14],[0.23,0.02],[0.27,0.4],[0.31,0.18],[0.35,0.08],[0.39,0.5],
  [0.43,0.27],[0.47,0.1],[0.51,0.62],[0.55,0.3],[0.59,0.46],[0.63,0.22],[0.67,0.72],[0.71,0.38],[0.75,0.58],[0.79,0.3],
  [0.83,0.86],[0.87,0.52],[0.91,0.7],[0.95,0.44],[0.99,0.78],[1.03,0.64],[1.07,1.0],[1.11,0.5],[1.15,0.9],[1.19,0.7],
  [1.23,0.94],[1.27,0.82],[1.31,1.22],[1.35,0.8],[1.39,1.1],[1.43,0.92],[1.47,1.2],[1.51,1.08],[1.55,1.42],[1.59,1.0],
  [1.63,1.24],[1.67,1.14],[1.71,1.36],[1.75,1.26],[1.79,1.62],[1.83,1.2],[1.87,1.5],[1.91,1.3],[1.95,1.58],[1.99,1.42],
  [2.03,1.84],[2.07,1.34],[2.11,1.64],[2.15,1.48],[2.19,1.9],[2.23,1.6],[2.27,1.78],[2.31,1.5],[2.35,1.86],[2.39,1.7],
  [2.43,2.1],[2.47,1.74],[2.51,2.0],[2.55,1.64],[2.59,2.16],[2.63,1.84],[2.67,1.98],[2.71,2.22],[2.75,1.76],[2.79,2.06],
  [2.83,2.34],[2.87,1.96],[2.91,2.18],[2.95,2.0],[2.99,2.46],[3.03,2.08],[3.07,2.28],[3.11,1.94],[3.15,2.42],[3.19,2.26],
  [3.23,2.5],[3.27,2.16],[3.31,2.38],[3.35,2.58],[3.39,2.24],[3.43,2.46],[3.47,2.7],[3.51,2.3],[3.55,2.6],[3.59,2.4],
  [3.63,2.86],[3.67,2.56],[3.71,2.76],[3.75,2.46],[3.79,2.94],[3.83,2.62],[3.87,2.84],[3.91,2.68],[3.95,3.06],[3.99,2.72],
  [4.03,2.94],[4.07,3.16],[4.11,2.8],[4.15,3.02],[4.19,3.24],[4.23,2.88],[4.27,3.14],[4.31,2.96],[4.35,3.36],[4.39,3.06],
  [4.43,2.84],[4.47,3.22],[4.51,3.42],[4.55,3.0],[4.59,3.14],[4.63,3.56],[4.67,3.1],[4.71,3.34],[4.75,3.66],[4.79,3.2],
  [4.83,3.42],[4.87,3.02],[4.91,3.64],[4.95,3.26],[4.99,3.84],
  [5.03,3.32],[5.07,3.68],[5.11,3.06],[5.15,3.9],[5.19,3.4],[5.23,3.14],[5.27,3.72],[5.31,3.24],[5.35,3.82],[5.39,3.5],
  [5.43,3.02],[5.47,3.86],[5.51,3.38],[5.55,3.64],[5.59,3.12],[5.63,3.96],[5.67,3.44],[5.71,3.6],[5.75,3.32],[5.79,3.8],
  [5.83,3.46],[5.87,3.04],[5.91,3.92],[5.95,3.28],[5.99,3.7],[6.03,3.4],[6.07,3.1],[6.11,3.76],[6.15,3.5],[6.19,3.9],
  [6.23,3.34],[6.27,3.62],[6.31,3.0],[6.35,3.82],[6.39,3.46],[6.43,3.22],[6.47,3.68],[6.51,3.94],[6.55,3.3],[6.59,3.54],
  [6.63,3.08],[6.67,3.8],[6.71,3.4],[6.75,3.64],[6.79,3.16],[6.83,3.5],[6.87,3.86],[6.91,3.26],[6.95,3.46],[6.99,3.04],
  [7.03,3.72],[7.07,3.3],[7.11,3.9],[7.15,3.42],[7.19,3.2],[7.23,3.66],[7.27,3.5],[7.31,3.04],[7.35,3.8],[7.39,3.3],
  [7.43,3.56],[7.47,3.16],[7.51,3.7],[7.55,3.4],[7.59,3.52],[7.63,3.12],[7.67,3.36],[7.71,2.96],[7.75,3.48],[7.79,3.1],
  [7.83,3.34],[7.87,2.82],[7.91,3.18],[7.95,2.92],[7.99,3.28],
  [8.03,2.6],[8.07,3.0],[8.11,2.74],[8.15,3.12],[8.19,2.48],[8.23,2.9],[8.27,2.66],[8.31,3.0],[8.35,2.4],[8.39,2.8],
  [8.43,2.56],[8.47,2.86],[8.51,2.32],[8.55,2.68],[8.59,2.46],[8.63,2.74],[8.67,2.2],[8.71,2.6],[8.75,2.36],[8.79,2.64],
  [8.83,2.14],[8.87,2.46],[8.91,2.26],[8.95,2.52],[8.99,2.04],[9.03,2.36],[9.07,2.16],[9.11,2.4],[9.15,1.94],[9.19,2.26],
  [9.23,2.06],[9.27,2.3],[9.31,1.84],[9.35,2.14],[9.39,1.96],[9.43,2.2],[9.47,1.74],[9.51,2.04],[9.55,1.86],[9.59,2.08],
  [9.63,1.66],[9.67,1.94],[9.71,1.76],[9.75,1.98],[9.79,1.56],[9.83,1.84],[9.87,1.66],[9.91,1.86],[9.95,1.48],[9.99,1.74],
  [10.03,1.58],[10.07,1.76],[10.11,1.4],[10.15,1.64],[10.19,1.5],[10.23,1.66],[10.27,1.32],[10.31,1.54],[10.35,1.4],[10.39,1.58],
  [10.43,1.24],[10.47,1.46],[10.51,1.32],[10.55,1.48],[10.59,1.16],[10.63,1.38],[10.67,1.24],[10.71,1.4],[10.75,1.08],[10.79,1.28],
  [10.83,1.16],[10.87,1.3],[10.91,1.0],[10.95,1.2],[10.99,1.06],[11.03,1.2],[11.07,0.9],[11.11,1.08],[11.15,0.96],[11.19,1.1],
  [11.23,0.82],[11.27,0.98],[11.31,0.86],[11.35,1.0],[11.39,0.72],[11.43,0.88],[11.47,0.76],[11.51,0.88],[11.55,0.62],[11.59,0.78],
  [11.63,0.66],[11.67,0.76],[11.71,0.52],[11.75,0.66],[11.79,0.56],[11.83,0.64],[11.87,0.4],[11.91,0.52],[11.95,0.42],[11.99,0.5],
  [12.03,0.3],[12.07,0.36],[12.11,0.22],[12.15,0.26],[12.19,0.12],[12.23,0.16],[12.27,0.06],[12.31,0.08],[12.35,0.02],
  [0.45,0.72],[0.62,0.86],[0.78,1.0],[0.93,1.12],[1.08,1.22],[1.21,1.38],[1.37,1.52],[1.52,1.64],[1.66,1.78],[1.81,1.9],
  [1.97,2.0],[2.12,2.12],[2.26,2.24],[2.41,2.36],[2.57,2.46],[2.7,2.58],[2.86,2.66],[3.01,2.74],[3.16,2.86],[3.31,2.94],
  [3.47,3.0],[3.6,3.1],[3.76,3.2],[3.9,3.28],[4.06,3.3],[4.2,3.42],[4.36,3.52],[4.52,3.6],[4.66,3.7],[4.81,3.8],
  [0.85,0.22],[0.97,0.3],[1.12,0.4],[1.26,0.52],[1.4,0.66],[1.55,0.74],[1.69,0.86],[1.84,0.98],[1.99,1.08],[2.13,1.18],
  [2.28,1.3],[2.43,1.4],[2.58,1.48],[2.72,1.6],[2.87,1.7],[3.02,1.8],[3.17,1.9],[3.32,1.98],[3.46,2.06],[3.62,2.14],
  [3.77,2.24],[3.92,2.32],[4.08,2.4],[4.22,2.5],[4.38,2.6],[4.53,2.68],[4.68,2.78],[4.84,2.86],[4.98,2.92],
  [0.58,0.5],[0.7,0.62],[0.88,0.66],[1.02,0.82],[1.18,1.0],[1.33,1.02],[1.49,1.36],[1.62,1.5],[1.77,1.36],[1.92,1.7],
  [2.06,1.62],[2.21,2.0],[2.37,1.94],[2.52,2.2],[2.66,2.28],[2.8,2.46],[2.95,2.5],[3.1,2.6],[3.26,2.7],[3.4,2.8],
  [3.57,2.9],[3.7,2.98],[3.85,3.08],[4.0,3.18],[4.14,3.24],[4.3,3.36],[4.45,3.48],[4.6,3.5],[4.76,3.58],[4.9,3.72],
  [5.06,2.86],[5.3,2.92],[5.45,2.82],[5.62,2.9],[5.8,2.84],[5.98,2.94],[6.15,2.8],[6.33,2.9],[6.5,2.86],[6.68,2.96],
  [6.85,2.84],[7.02,2.92],[7.2,2.88],[7.38,2.96],[7.55,2.86],[7.7,2.74],
  [5.12,3.96],[5.38,3.98],[5.7,3.99],[6.02,3.96],[6.26,3.98],[6.56,3.92],[6.9,3.96],[7.22,3.94],[7.46,3.88],[7.62,3.8],
  [7.8,3.62],[7.93,3.5],
  [8.1,3.24],[8.3,3.1],[8.5,2.92],[8.7,2.78],[8.9,2.62],[9.1,2.52],[9.3,2.36],[9.5,2.2],[9.7,2.06],[9.9,1.96],
  [10.1,1.84],[10.3,1.72],[10.5,1.6],[10.7,1.48],[10.9,1.36],[11.1,1.24],[11.3,1.1],[11.5,0.98],[11.7,0.84],[11.9,0.7],
  [12.1,0.52],
  [8.05,2.34],[8.25,2.22],[8.45,2.12],[8.65,1.98],[8.85,1.86],[9.05,1.76],[9.25,1.64],[9.45,1.52],[9.65,1.4],[9.85,1.32],
  [10.05,1.22],[10.25,1.12],[10.45,1.02],[10.65,0.92],[10.85,0.82],[11.05,0.72],[11.25,0.62],[11.45,0.52],[11.65,0.4],[11.85,0.3],
  [12.05,0.18]
];

const FONT = 'DejaVu Sans';
const INK = '#222222';
const OLIVE = '#bfbf00';
const BLUE = '#1f77b4';
const RED = '#f0262a';
const DOT = 3.6;

const toXY = rows => rows.map(([t, a]) => ({ x: t, y: a / 1000 }));

// axes frame on all four sides plus the title centred over the axes
const framePlugin = {
  id: 'frame',
  afterDraw(chart, args, opts) {
    const { ctx, chartArea: a } = chart;
    ctx.save();
    ctx.strokeStyle = INK;
    ctx.lineWidth = 1.2;
    ctx.strokeRect(a.left, a.top, a.right - a.left, a.bottom - a.top);
    ctx.fillStyle = INK;
    ctx.font = '20.5px "' + FONT + '"';
    ctx.textAlign = 'center';
    ctx.textBaseline = 'middle';
    ctx.fillText(opts.text, (a.left + a.right) / 2, opts.y);
    ctx.restore();
  }
};

// legend in the upper right corner, drawn over the points
const insetLegend = {
  id: 'insetLegend',
  afterDatasetsDraw(chart, args, opts) {
    const { ctx, chartArea: a } = chart;
    const rows = chart.data.datasets;
    ctx.save();
    ctx.font = '16px "' + FONT + '"';
    const textW = Math.max(...rows.map(d => ctx.measureText(d.label).width));
    const w = 55 + textW + 8, h = 82;
    const x = a.right - opts.inset - w, y = a.top + 9;
    ctx.fillStyle = 'rgba(255,255,255,0.8)';
    ctx.strokeStyle = 'rgba(204,204,204,0.9)';
    ctx.lineWidth = 1;
    ctx.beginPath();
    ctx.roundRect(x + 0.5, y + 0.5, w, h, 3);
    ctx.fill();
    ctx.stroke();
    rows.forEach((d, i) => {
      const cy = y + 15.7 + i * 25.2;
      if (d.showLine) {
        ctx.strokeStyle = d.borderColor;
        ctx.lineWidth = d.borderWidth;
        ctx.beginPath();
        ctx.moveTo(x + 5, cy);
        ctx.lineTo(x + 41, cy);
        ctx.stroke();
      } else {
        ctx.fillStyle = d.backgroundColor;
        ctx.beginPath();
        ctx.arc(x + 24, cy, 3, 0, Math.PI * 2);
        ctx.fill();
      }
      ctx.fillStyle = INK;
      ctx.textBaseline = 'middle';
      ctx.textAlign = 'left';
      ctx.fillText(d.label, x + 55, cy);
    });
    ctx.restore();
  }
};

function makeChart(id, p) {
  const font = { family: FONT, size: 16.5 };
  return new Chart(document.getElementById(id), {
    type: 'scatter',
    data: {
      datasets: [
        { label: 'numpy gradient', data: toXY(p.gradient), backgroundColor: OLIVE, borderColor: OLIVE,
          pointRadius: DOT, pointHoverRadius: DOT, pointBorderWidth: 0, order: 3 },
        { label: 'moving average', data: toXY(p.average), backgroundColor: BLUE, borderColor: BLUE,
          pointRadius: DOT, pointHoverRadius: DOT, pointBorderWidth: 0, order: 2 },
        { label: '0.0034m/s - coded accel', data: [{ x: -5, y: codedAccel }, { x: 30, y: codedAccel }],
          showLine: true, borderColor: RED, backgroundColor: RED, borderWidth: 2.5, pointRadius: 0, order: 1 }
      ]
    },
    options: {
      responsive: false,
      animation: false,
      events: [],
      layout: { padding: { left: 0, right: p.padRight, top: p.padTop, bottom: 0 } },
      plugins: {
        legend: { display: false },
        tooltip: { enabled: false },
        title: { display: false },
        frame: { text: p.title, y: p.titleY },
        insetLegend: { inset: p.legendInset }
      },
      scales: {
        x: {
          type: 'linear', min: p.xMin, max: p.xMax,
          afterBuildTicks: s => { s.ticks = p.xTicks.map(v => ({ value: v })); },
          afterFit: s => { s.height = p.xAxisH; },
          grid: { display: true, drawOnChartArea: false, drawTicks: true, tickLength: 6, color: INK, lineWidth: 1.2 },
          border: { display: false },
          ticks: { color: INK, font, padding: 5, maxRotation: 0, autoSkip: false, callback: v => String(v) },
          title: { display: true, text: 'Time (s)', color: INK, font, padding: { top: 0, bottom: p.xTitlePad } }
        },
        y: {
          type: 'linear', min: p.yMin, max: p.yMax,
          afterBuildTicks: s => { s.ticks = p.yTicks.map(v => ({ value: v })); },
          afterFit: s => { s.width = p.yAxisW; },
          grid: { display: true, drawOnChartArea: false, drawTicks: true, tickLength: 6, color: INK, lineWidth: 1.2 },
          border: { display: false },
          ticks: { color: INK, font, padding: 7, autoSkip: false, callback: v => v.toFixed(p.decimals) },
          title: { display: true, text: 'Acceleration (m/s^2)', color: INK, font, padding: { top: p.yTitlePad, bottom: 0 } }
        }
      }
    },
    plugins: [insetLegend, framePlugin]
  });
}

makeChart('left', {
  title: '60 cm/min start speed', titleY: 19,
  gradient: leftGradient, average: leftAverage,
  xTicks: leftXTicks, yTicks: leftYTicks, decimals: 4,
  xMin: -0.41, xMax: 8.22, yMin: -0.000207, yMax: 0.004224,
  padRight: 6, padTop: 36, xAxisH: 62, yAxisW: 120,
  xTitlePad: 7, yTitlePad: 21, legendInset: 9
});

makeChart('right', {
  title: '150 cm/min start speed', titleY: 19.5,
  gradient: rightGradient, average: rightAverage,
  xTicks: rightXTicks, yTicks: rightYTicks, decimals: 3,
  xMin: -0.6, xMax: 12.97, yMin: -0.00031, yMax: 0.006333,
  padRight: 12, padTop: 37.3, xAxisH: 54, yAxisW: 98.3,
  xTitlePad: 0, yTitlePad: 9.6, legendInset: 18
});
</script>
</body>
</html>
